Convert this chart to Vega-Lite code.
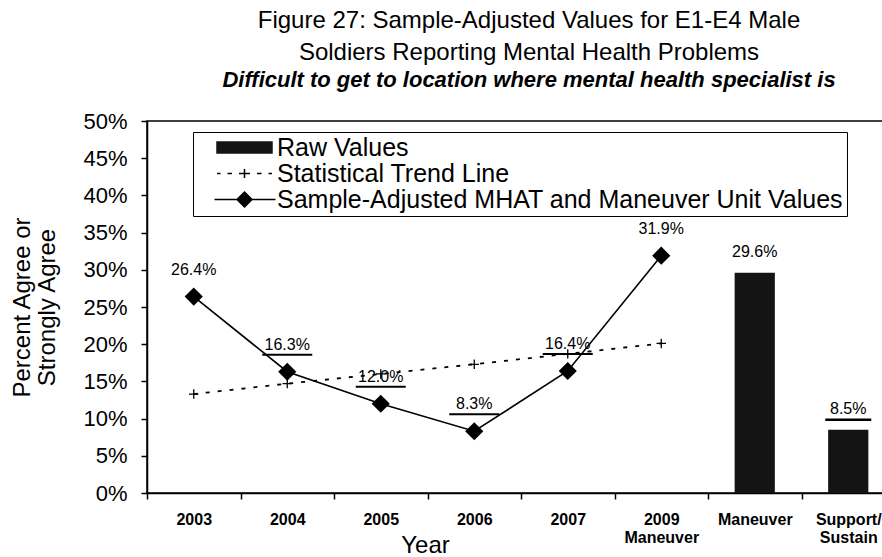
{
  "$schema": "https://vega.github.io/schema/vega-lite/v6.json",
  "width": 748,
  "height": 372,
  "autosize": "none",
  "padding": {"left": 147, "top": 121, "right": -13, "bottom": 64},
  "background": "white",
  "config": {
    "font": "Liberation Sans",
    "view": {"stroke": "#000", "strokeWidth": 1.5}
  },
  "title": {
    "text": ["Figure 27: Sample-Adjusted Values for E1-E4 Male", "Soldiers Reporting Mental Health Problems"],
    "subtitle": "Difficult to get to location where mental health specialist is",
    "fontSize": 24,
    "fontWeight": "normal",
    "lineHeight": 32,
    "color": "#000",
    "subtitleFontSize": 22,
    "subtitleFontWeight": "bold",
    "subtitleFontStyle": "italic",
    "subtitleColor": "#000",
    "subtitlePadding": 5,
    "anchor": "middle",
    "dx": 8,
    "offset": 19
  },
  "data": {
    "values": [
      {"cat": "2003", "series": "Sample-Adjusted MHAT and Maneuver Unit Values", "value": 0.264},
      {"cat": "2004", "series": "Sample-Adjusted MHAT and Maneuver Unit Values", "value": 0.163},
      {"cat": "2005", "series": "Sample-Adjusted MHAT and Maneuver Unit Values", "value": 0.120},
      {"cat": "2006", "series": "Sample-Adjusted MHAT and Maneuver Unit Values", "value": 0.083},
      {"cat": "2007", "series": "Sample-Adjusted MHAT and Maneuver Unit Values", "value": 0.164},
      {"cat": "2009 Maneuver", "series": "Sample-Adjusted MHAT and Maneuver Unit Values", "value": 0.319},
      {"cat": "2003", "series": "Statistical Trend Line", "value": 0.133},
      {"cat": "2004", "series": "Statistical Trend Line", "value": 0.147},
      {"cat": "2005", "series": "Statistical Trend Line", "value": 0.160},
      {"cat": "2006", "series": "Statistical Trend Line", "value": 0.173},
      {"cat": "2007", "series": "Statistical Trend Line", "value": 0.187},
      {"cat": "2009 Maneuver", "series": "Statistical Trend Line", "value": 0.201},
      {"cat": "Maneuver", "series": "Raw Values", "value": 0.296},
      {"cat": "Support/Sustain", "series": "Raw Values", "value": 0.085}
    ]
  },
  "encoding": {
    "x": {
      "field": "cat",
      "type": "nominal",
      "sort": ["2003", "2004", "2005", "2006", "2007", "2009 Maneuver", "Maneuver", "Support/Sustain"],
      "scale": {"domain": ["2003", "2004", "2005", "2006", "2007", "2009 Maneuver", "Maneuver", "Support/Sustain"], "paddingInner": 0, "paddingOuter": 0},
      "axis": {
        "title": "Year",
        "titleFontSize": 24,
        "titleFontWeight": "normal",
        "titleColor": "#000",
        "titleX": 278,
        "titleY": 52,
        "titleBaseline": "middle",
        "labelFontSize": 16,
        "labelFontWeight": "bold",
        "labelColor": "#000",
        "labelAngle": 0,
        "labelPadding": 12,
        "labelBaseline": "top",
        "labelLineHeight": 18,
        "labelExpr": "datum.label == '2009 Maneuver' ? ['2009', 'Maneuver'] : datum.label == 'Support/Sustain' ? ['Support/', 'Sustain'] : datum.label",
        "tickBand": "extent",
        "tickSize": 6,
        "tickWidth": 1.5,
        "tickColor": "#000",
        "domainColor": "#000",
        "domainWidth": 1.5
      }
    },
    "y": {
      "field": "value",
      "type": "quantitative",
      "scale": {"domain": [0, 0.5], "nice": false},
      "axis": {
        "values": [0, 0.05, 0.1, 0.15, 0.2, 0.25, 0.3, 0.35, 0.4, 0.45, 0.5],
        "format": ".0%",
        "title": ["Percent Agree or", "Strongly Agree"],
        "titleFontSize": 24,
        "titleFontWeight": "normal",
        "titleColor": "#000",
        "titleLineHeight": 25,
        "titlePadding": 23,
        "labelFontSize": 22,
        "labelColor": "#000",
        "labelPadding": 14,
        "tickSize": 6,
        "tickWidth": 1.5,
        "tickColor": "#000",
        "domainColor": "#000",
        "domainWidth": 1.5,
        "grid": false
      }
    }
  },
  "layer": [
    {
      "transform": [{"filter": "datum.series === 'Raw Values'"}],
      "mark": {"type": "bar", "width": {"band": 0.43}},
      "encoding": {
        "color": {
          "field": "series",
          "type": "nominal",
          "scale": {"domain": ["Raw Values", "Statistical Trend Line", "Sample-Adjusted MHAT and Maneuver Unit Values"], "range": ["#141414", "#000000", "#000000"]},
          "legend": {
            "title": null,
            "orient": "none",
            "legendX": 46,
            "legendY": 11,
            "direction": "vertical",
            "strokeColor": "#000",
            "fillColor": "#fff",
            "padding": 3,
            "labelFontSize": 25,
            "labelColor": "#000",
            "labelOffset": 20,
            "labelLimit": 0,
            "rowPadding": 0,
            "symbolSize": 400,
            "symbolOffset": 36,
            "encode": {
              "symbols": {
                "update": {
                  "shape": {"signal": "datum.value === 'Raw Values' ? 'M-2.75,-0.55H2.75V0.55H-2.75Z' : datum.value === 'Statistical Trend Line' ? 'M-2.75,0H-2.4M-1.7,0H-1.25M-0.55,0H0.55M0,-0.45V0.45M1.25,0H1.7M2.4,0H2.75' : 'M-3,0H3.1M0,-0.75L0.75,0L0,0.75L-0.75,0Z'"},
                  "fill": {"signal": "datum.value === 'Raw Values' ? '#3a3a3a' : datum.value === 'Statistical Trend Line' ? 'transparent' : '#000'"},
                  "stroke": {"signal": "datum.value === 'Raw Values' ? 'transparent' : '#000'"},
                  "strokeWidth": {"signal": "1.5"},
                  "size": {"signal": "400"},
                  "opacity": {"signal": "1"}
                }
              }
            }
          }
        }
      }
    },
    {
      "transform": [{"filter": "datum.series === 'Statistical Trend Line'"}],
      "mark": {"type": "line", "strokeDash": [4, 8], "strokeWidth": 1.8},
      "encoding": {"color": {"field": "series", "type": "nominal"}}
    },
    {
      "transform": [{"filter": "datum.series === 'Statistical Trend Line'"}],
      "mark": {"type": "point", "shape": "M-1,0H1M0,-1V1", "size": 90, "filled": false, "strokeWidth": 1.3, "opacity": 1},
      "encoding": {"color": {"field": "series", "type": "nominal"}}
    },
    {
      "transform": [{"filter": "datum.series === 'Sample-Adjusted MHAT and Maneuver Unit Values'"}],
      "mark": {"type": "line", "strokeWidth": 1.6},
      "encoding": {"color": {"field": "series", "type": "nominal"}}
    },
    {
      "transform": [{"filter": "datum.series === 'Sample-Adjusted MHAT and Maneuver Unit Values'"}],
      "mark": {"type": "point", "shape": "diamond", "filled": true, "size": 330, "opacity": 1},
      "encoding": {"color": {"field": "series", "type": "nominal"}}
    },
    {
      "transform": [{"filter": "datum.series === 'Sample-Adjusted MHAT and Maneuver Unit Values'"}],
      "mark": {"type": "text", "dy": -27, "fontSize": 16, "color": "#000"},
      "encoding": {"text": {"field": "value", "format": ".1%"}}
    },
    {
      "transform": [{"filter": "datum.series === 'Raw Values'"}],
      "mark": {"type": "text", "dy": -21, "fontSize": 16, "color": "#000"},
      "encoding": {"text": {"field": "value", "format": ".1%"}}
    },
    {
      "transform": [{"filter": "datum.series === 'Sample-Adjusted MHAT and Maneuver Unit Values' && datum.value < 0.2"}],
      "mark": {"type": "tick", "orient": "horizontal", "size": 50, "thickness": 2, "color": "#000", "opacity": 1, "yOffset": -17}
    },
    {
      "transform": [{"filter": "datum.series === 'Raw Values' && datum.value < 0.2"}],
      "mark": {"type": "tick", "orient": "horizontal", "size": 46, "thickness": 2.5, "color": "#000", "opacity": 1, "yOffset": -10}
    }
  ]
}
